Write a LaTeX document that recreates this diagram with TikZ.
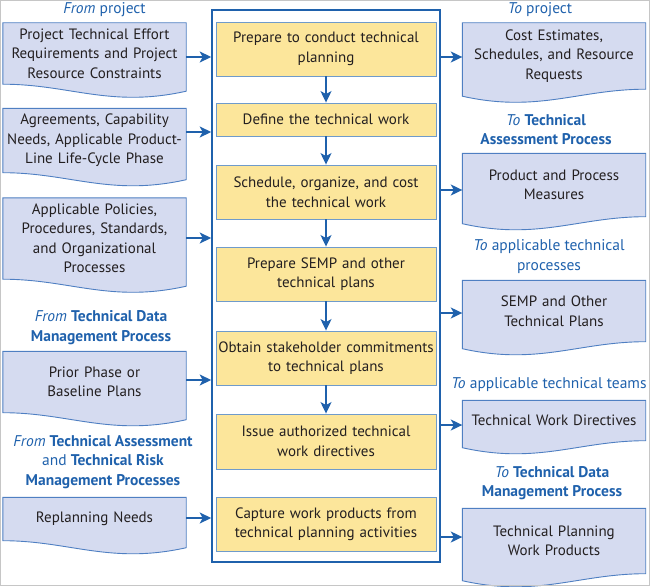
\documentclass[tikz,border=0pt]{standalone}
\usepackage{fontspec}
\setmainfont{PT Sans}
\usetikzlibrary{positioning,calc,arrows.meta,backgrounds}
\definecolor{nasablue}{HTML}{1F61AC}
\definecolor{docfill}{HTML}{D5DBF0}
\definecolor{docedge}{HTML}{4F7FC2}
\definecolor{taskfill}{HTML}{FCE69B}
\definecolor{taskedge}{HTML}{6F9BCB}
\definecolor{ink}{HTML}{231F20}
\tikzset{
  >={Stealth[length=11.5pt,width=11pt,inset=3pt]},
  my task/.style={
    draw=taskedge,
    fill=taskfill,
    line width=0.9pt,
    minimum width=220pt,
    minimum height=54pt,
    text width=218pt,
    align=center,
    inner sep=0pt,
    text=ink
  },
  my doc/.style={
    minimum width=183pt,
    text width=181pt,
    align=center,
    inner sep=0pt,
    text=ink
  },
  my head/.style={text=nasablue,align=center,inner sep=0pt,font=\fontsize{15.5}{19.5}\selectfont},
  my flow/.style={->,draw=nasablue,line width=1.6pt},
  my outline/.style={fill=docfill,draw=docedge,line width=0.9pt}
}

\begin{document}
\begin{tikzpicture}[x=1pt,y=-1pt,font=\fontsize{15}{19.5}\selectfont]
\useasboundingbox (0,0) rectangle (650,586);
\draw[gray!45,line width=1pt] (0.5,0.5) rectangle (649.5,585.5);
% Process frame and steps
\node[draw=nasablue,line width=1.6pt,minimum width=228pt,minimum height=552pt,inner sep=0pt] (stack) at (326,286) {};
\node[my task]                    (t1) at (326,49)    {Prepare to conduct technical\\planning};
\node[my task,minimum height=33pt] (t2) at (326,119.5) {Define the technical work};
\node[my task]                    (t3) at (326,192)   {Schedule, organize, and cost\\the technical work};
\node[my task]                    (t4) at (326,274)   {Prepare SEMP and other\\technical plans};
\node[my task]                    (t5) at (326,358)   {Obtain stakeholder commitments\\to technical plans};
\node[my task,minimum height=55pt] (t6) at (326,441.5) {Issue authorized technical\\work directives};
\node[my task]                    (t7) at (326,524)   {Capture work products from\\technical planning activities};
\foreach \a/\b in {t1/t2,t2/t3,t3/t4,t4/t5,t5/t6}
  \draw[my flow] (\a) -- (\b);
% Inputs
\node[my head] (from1) at (104.5,10) {\textit{From} project};
\node[my doc,minimum height=61pt] (effort) at (94.5,53.5) {Project Technical Effort\\Requirements and Project\\Resource Constraints};
\node[my doc,minimum height=64pt] (agree)  at (94.5,140.5) {Agreements, Capability\\Needs, Applicable Product-\\Line Life-Cycle Phase};
\node[my doc,minimum height=81pt] (policy) at (94.5,238.5) {Applicable Policies,\\Procedures, Standards,\\and Organizational\\Processes};
\node[my head] (from2) at (101,327.5) {\textit{From} \textbf{Technical Data}\\\textbf{Management Process}};
\node[my doc,minimum height=61pt] (prior)  at (94.5,382) {Prior Phase or\\Baseline Plans};
\node[my head] (from3) at (103,462) {\textit{From} \textbf{Technical Assessment}\\and \textbf{Technical Risk}\\\textbf{Management Processes}};
\node[my doc,minimum height=43pt] (replan) at (94.5,519) {Replanning Needs};
% Outputs
\node[my head] (to1) at (540,10) {\textit{To} project};
\node[my doc,minimum height=66pt] (cost)    at (554,56)    {Cost Estimates,\\Schedules, and Resource\\Requests};
\node[my head] (to2) at (546,129.5) {\textit{To} \textbf{Technical}\\\textbf{Assessment Process}};
\node[my doc,minimum height=63pt] (measure) at (554,185) {Product and Process\\Measures};
\node[my head] (to3) at (549,256.5) {\textit{To} applicable technical\\processes};
\node[my doc,minimum height=61pt] (semp)    at (554,311) {SEMP and Other\\Technical Plans};
\node[my head] (to4) at (549,385) {\textit{To} applicable technical teams};
\node[my doc,minimum height=40pt] (direct)  at (554,420.5) {Technical Work Directives};
\node[my head] (to5) at (552,483) {\textit{To} \textbf{Technical Data}\\\textbf{Management Process}};
\node[my doc,minimum height=65pt] (product) at (554,541) {Technical Planning\\Work Products};
% Document outlines
\begin{scope}[on background layer]
\foreach \n in {effort,agree,policy,prior,replan}
  \filldraw[my outline] (\n.north west) -- (\n.north east) -- ($(\n.south east)+(0,7)$)
    .. controls +(-76,17) and +(67,0) .. (\n.south west) -- cycle;
\foreach \n in {cost,measure,semp,direct,product}
  \filldraw[my outline] (\n.north west) -- (\n.north east) -- (\n.south east)
    .. controls +(-67,0) and +(76,17) .. ($(\n.south west)+(0,7)$) -- cycle;
\end{scope}
% Flows in and out
\foreach \n/\d in {effort/3.5,agree/-8.5,policy/-0.5,prior/-2,replan/-1}
  \draw[my flow] ($(\n.east)+(0,\d)$) -- ($(stack.west|-\n.east)+(0,\d)$);
\foreach \n/\d in {cost/1,measure/5,semp/2,direct/4.5,product/-4}
  \draw[my flow] ($(stack.east|-\n.west)+(0,\d)$) -- ($(\n.west)+(0,\d)$);
\end{tikzpicture}
\end{document}
